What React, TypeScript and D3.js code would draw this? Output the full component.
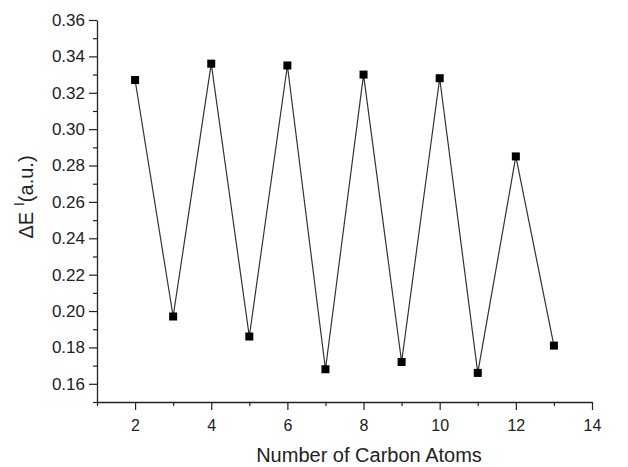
import { useEffect, useRef } from 'react';
import * as d3 from 'd3';

const carbonAtoms = [2, 3, 4, 5, 6, 7, 8, 9, 10, 11, 12, 13];
const deltaE = [0.327, 0.197, 0.336, 0.186, 0.335, 0.168, 0.330, 0.172, 0.328, 0.166, 0.285, 0.181];
const xMajorTicks = [2, 4, 6, 8, 10, 12, 14];
const xMinorTicks = [1, 3, 5, 7, 9, 11, 13];
const yMajorTicks = [0.16, 0.18, 0.2, 0.22, 0.24, 0.26, 0.28, 0.3, 0.32, 0.34, 0.36];
const yMinorTicks = [0.15, 0.17, 0.19, 0.21, 0.23, 0.25, 0.27, 0.29, 0.31, 0.33, 0.35];

const W = 628;
const H = 467;
const FONT = 'Arial, "Liberation Sans", Helvetica, sans-serif';

export default function App() {
  const ref = useRef<SVGSVGElement>(null);

  useEffect(() => {
    const svg = d3.select(ref.current);
    svg.selectAll('*').remove();

    const m = { left: 97, right: 36, top: 20, bottom: 65 };
    const x = d3.scaleLinear().domain([1, 14]).range([m.left, W - m.right]);
    const y = d3.scaleLinear().domain([0.15, 0.36]).range([H - m.bottom, m.top]);
    const axisColor = '#222';

    // ── x axis ────────────────────────────────────────
    const gx = svg.append('g').attr('transform', `translate(0,${y(0.15)})`);
    gx.call(d3.axisBottom(x).tickValues(xMajorTicks).tickSize(8).tickSizeOuter(0).tickFormat(d3.format('d')));
    gx.append('g').call(d3.axisBottom(x).tickValues(xMinorTicks).tickSize(4).tickSizeOuter(0).tickFormat(() => ''))
      .select('.domain').remove();
    gx.selectAll('.domain').attr('stroke', axisColor).attr('stroke-width', 1.3);
    gx.selectAll('.tick line').attr('stroke', axisColor).attr('stroke-width', 1.2);
    gx.selectAll('.tick text').attr('fill', '#222').attr('font-size', '16px').attr('font-family', FONT).attr('dy', '1.15em');

    // ── y axis ────────────────────────────────────────
    const gy = svg.append('g').attr('transform', `translate(${x(1)},0)`);
    gy.call(d3.axisLeft(y).tickValues(yMajorTicks).tickSize(8).tickSizeOuter(0).tickFormat(d3.format('.2f')));
    gy.append('g').call(d3.axisLeft(y).tickValues(yMinorTicks).tickSize(4).tickSizeOuter(0).tickFormat(() => ''))
      .select('.domain').remove();
    gy.selectAll('.domain').attr('stroke', axisColor).attr('stroke-width', 1.3);
    gy.selectAll('.tick line').attr('stroke', axisColor).attr('stroke-width', 1.2);
    gy.selectAll('.tick text').attr('fill', '#222').attr('font-size', '17px').attr('font-family', FONT).attr('x', -12);

    // ── line + markers ────────────────────────────────
    const pts = carbonAtoms.map((c, i) => [c, deltaE[i]] as [number, number]);
    const line = d3.line<[number, number]>().x(d => x(d[0])).y(d => y(d[1]));
    svg.append('path').attr('d', line(pts)).attr('fill', 'none').attr('stroke', '#333').attr('stroke-width', 1.2);

    const sz = 8;
    svg.append('g').selectAll('rect').data(pts).join('rect')
      .attr('x', d => x(d[0]) - sz / 2).attr('y', d => y(d[1]) - sz / 2)
      .attr('width', sz).attr('height', sz).attr('fill', '#000');

    // ── titles ────────────────────────────────────────
    svg.append('text').attr('x', 369).attr('y', 462).attr('text-anchor', 'middle')
      .attr('font-size', '20px').attr('font-family', FONT).attr('fill', '#222')
      .text('Number of Carbon Atoms');

    const yt = svg.append('text').attr('transform', 'translate(33,197) rotate(-90)').attr('text-anchor', 'middle')
      .attr('font-size', '20px').attr('font-family', FONT).attr('fill', '#222');
    yt.append('tspan').text('\u0394E ');
    yt.append('tspan').attr('font-size', '15px').attr('dy', '-9').text('I');
    yt.append('tspan').attr('dy', '9').text('(a.u.)');
  }, []);

  return (
    <svg ref={ref} width={W} height={H}
      style={{ position: 'absolute', left: 0, top: 0, background: '#fff' }} />
  );
}
